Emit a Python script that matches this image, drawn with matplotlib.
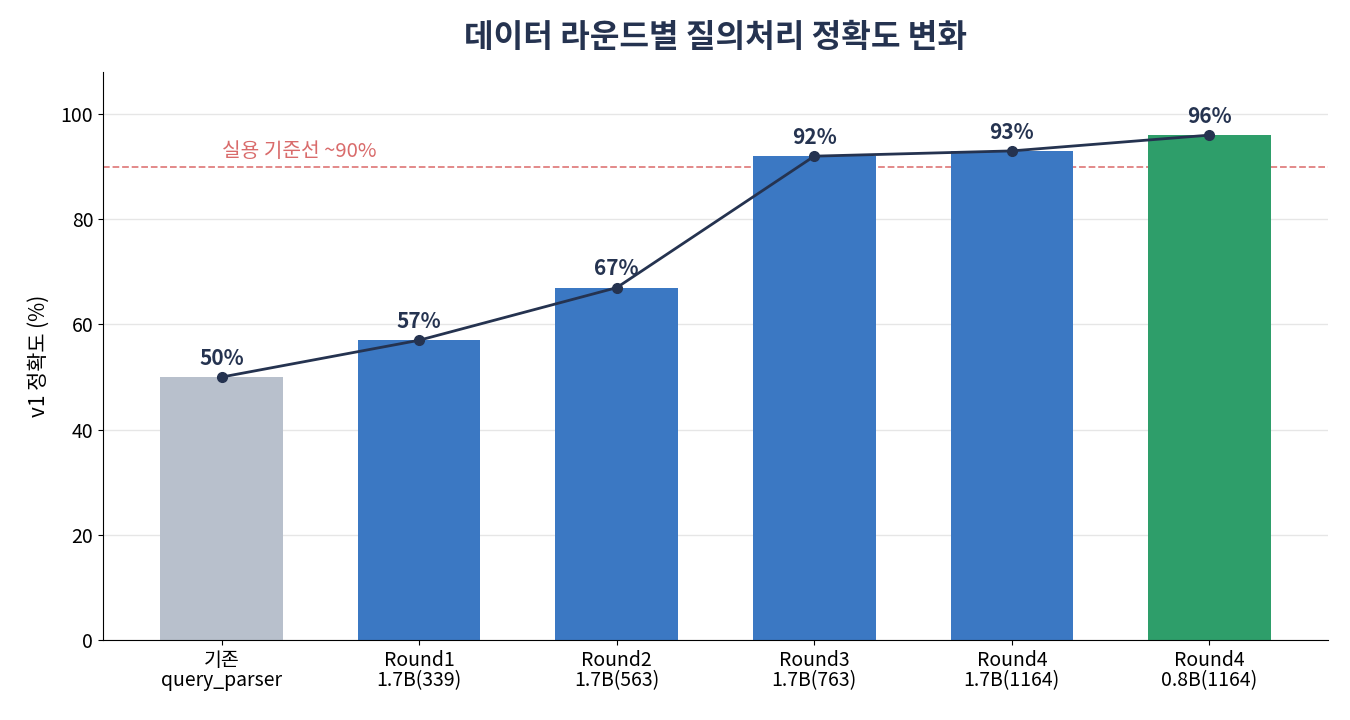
import matplotlib
matplotlib.use("Agg")
import matplotlib.pyplot as plt

plt.rcParams['font.family'] = ['Noto Sans CJK KR', 'DejaVu Sans']

categories = ["기존\nquery_parser", "Round1\n1.7B(339)", "Round2\n1.7B(563)",
              "Round3\n1.7B(763)", "Round4\n1.7B(1164)", "Round4\n0.8B(1164)"]
values = [50, 57, 67, 92, 93, 96]
colors = ["#b8c0cc", "#3b78c3", "#3b78c3", "#3b78c3", "#3b78c3", "#2e9e6a"]
threshold = 90
threshold_label = "실용 기준선 ~90%"

fig, ax = plt.subplots(figsize=(13.5, 7.2), dpi=100)
fig.subplots_adjust(left=0.0763, right=0.9837, top=0.9, bottom=0.111)

x = list(range(len(categories)))
ax.bar(x, values, width=0.62, color=colors, zorder=2)
ax.plot(x, values, color="#253350", linewidth=2, marker="o", markersize=7, zorder=3)
for xi, v in zip(x, values):
    ax.annotate(f"{v}%", (xi, v), xytext=(0, 6), textcoords="offset points",
                ha="center", va="bottom", fontsize=15, fontweight="bold", color="#253350")

ax.axhline(threshold, color="#e08080", linestyle="--", linewidth=1.3, zorder=1)
ax.text(0, threshold + 0.8, threshold_label, color="#d96b6b", fontsize=14.6, ha="left", va="bottom")

ax.set_xlim(-0.6, 5.6)
ax.set_ylim(0, 108)
ax.set_xticks(x)
ax.set_xticklabels(categories, fontsize=14, linespacing=0.95)
ax.tick_params(axis="y", labelsize=14)
ax.set_ylabel("v1 정확도 (%)", fontsize=15, labelpad=8)
ax.set_title("데이터 라운드별 질의처리 정확도 변화", fontsize=23.2, fontweight="bold",
             color="#253350", pad=18)
ax.grid(axis="y", color="#e6e6e6", linewidth=1, zorder=0)
ax.set_axisbelow(True)
for s in ["top", "right"]:
    ax.spines[s].set_visible(False)

fig.savefig("out.png", dpi=100)
